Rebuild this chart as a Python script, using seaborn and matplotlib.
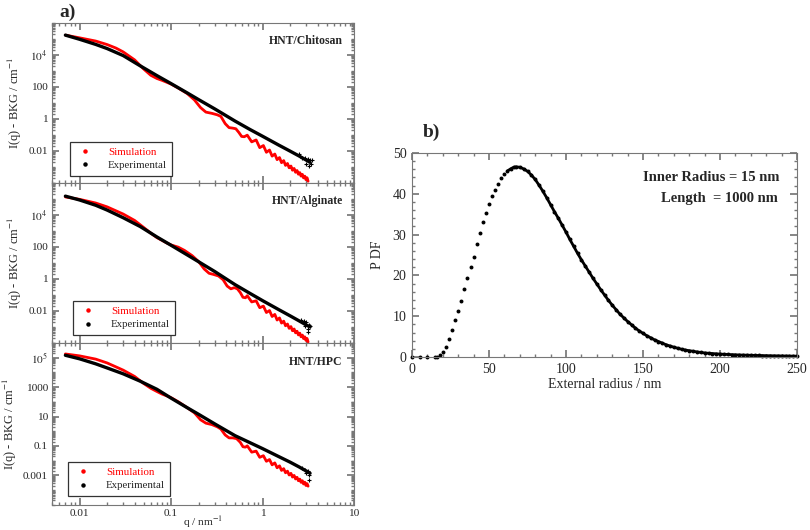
import numpy as np
import pandas as pd
import matplotlib
matplotlib.use("Agg")
import matplotlib.pyplot as plt
import matplotlib.ticker as mticker
from matplotlib.lines import Line2D
import seaborn as sns

# SAXS data, log10 of I(q)
q_exp = [0.007, 0.01, 0.015, 0.02, 0.03, 0.046, 0.07, 0.1, 0.15, 0.2, 0.3, 0.5,
         0.73, 1.0, 1.5, 2.0, 2.5, 3.0, 3.3]
chit_exp = [5.23, 4.97, 4.65, 4.39, 3.95, 3.31, 2.70, 2.20, 1.62, 1.20, 0.62, -0.14,
            -0.67, -1.09, -1.64, -2.02, -2.32, -2.58, -2.72]
alg_exp = [5.17, 4.93, 4.60, 4.30, 3.82, 3.27, 2.62, 2.10, 1.50, 1.07, 0.46, -0.36,
           -0.91, -1.36, -1.92, -2.31, -2.62, -2.88, -3.00]
hpc_exp = [5.16, 4.92, 4.58, 4.30, 3.90, 3.40, 2.85, 2.25, 1.60, 1.15, 0.50, -0.30,
           -0.78, -1.18, -1.72, -2.10, -2.42, -2.70, -2.85]

# scattered experimental points at the high-q end
chit_noise_q = [2.5, 2.7, 2.9, 3.0, 3.1, 3.2, 3.3, 3.4, 3.45]
chit_noise = [-2.2, -2.45, -2.45, -2.85, -2.5, -2.95, -2.55, -2.8, -2.6]
alg_noise_q = [2.6, 2.8, 2.9, 3.0, 3.1, 3.15, 3.2, 3.3]
alg_noise = [-2.55, -2.65, -2.95, -2.7, -3.1, -3.3, -2.85, -2.95]
hpc_noise_q = [2.7, 2.9, 3.0, 3.1, 3.2, 3.25]
hpc_noise = [-2.5, -2.6, -2.85, -2.7, -3.0, -3.3]

# simulation, low q part
chit_sim_q = [0.007, 0.01, 0.015, 0.02, 0.025, 0.03, 0.04, 0.05, 0.06, 0.07, 0.08, 0.09,
              0.1, 0.12, 0.15, 0.18, 0.21, 0.24, 0.28, 0.32, 0.35, 0.39, 0.43, 0.47,
              0.51, 0.55, 0.59, 0.63]
chit_sim = [5.23, 5.06, 4.86, 4.64, 4.42, 4.18, 3.68, 3.12, 2.72, 2.52, 2.40, 2.28,
            2.17, 1.92, 1.58, 1.18, 0.70, 0.42, 0.34, 0.25, 0.15, -0.30, -0.55, -0.58,
            -0.62, -0.85, -1.10, -1.12]
alg_sim_q = [0.007, 0.01, 0.015, 0.02, 0.03, 0.04, 0.05, 0.06, 0.07, 0.08, 0.09, 0.1,
             0.12, 0.14, 0.17, 0.2, 0.23, 0.26, 0.29, 0.33, 0.37, 0.41, 0.45, 0.49,
             0.53, 0.57, 0.61, 0.65]
alg_sim = [5.12, 4.97, 4.74, 4.50, 4.05, 3.65, 3.22, 2.86, 2.58, 2.40, 2.24, 2.12,
           1.98, 1.78, 1.45, 1.08, 0.62, 0.35, 0.28, 0.18, -0.05, -0.45, -0.62, -0.55,
           -0.62, -0.85, -1.15, -1.18]
hpc_sim_q = [0.007, 0.01, 0.015, 0.02, 0.03, 0.04, 0.05, 0.06, 0.07, 0.08, 0.09, 0.1,
             0.12, 0.15, 0.18, 0.21, 0.24, 0.28, 0.32, 0.35, 0.39, 0.43, 0.47, 0.52,
             0.57, 0.61, 0.65]
hpc_sim = [5.25, 5.12, 4.90, 4.64, 4.15, 3.72, 3.25, 2.92, 2.70, 2.52, 2.40, 2.28,
           2.00, 1.60, 1.25, 0.78, 0.55, 0.45, 0.30, 0.15, -0.25, -0.45, -0.45, -0.50,
           -0.75, -1.05, -1.08]

# simulation, oscillating high q part (peaks and troughs)
q_wig = [0.68, 0.76, 0.85, 0.93, 1.02, 1.10, 1.19, 1.27, 1.36, 1.44, 1.53, 1.61, 1.70,
         1.78, 1.87, 1.95, 2.04, 2.12, 2.21, 2.29, 2.38, 2.46, 2.55, 2.63, 2.72, 2.80,
         2.89, 2.97, 3.06, 3.14]
chit_wig = [-1.02, -1.44, -1.32, -1.80, -1.67, -2.09, -1.95, -2.33, -2.20, -2.55, -2.42,
            -2.74, -2.61, -2.91, -2.79, -3.06, -2.95, -3.21, -3.10, -3.34, -3.23, -3.46,
            -3.36, -3.58, -3.47, -3.69, -3.58, -3.80, -3.68, -3.90]
alg_wig = [-1.05, -1.44, -1.37, -1.80, -1.70, -2.10, -1.98, -2.35, -2.22, -2.57, -2.44,
           -2.76, -2.64, -2.93, -2.82, -3.09, -2.98, -3.24, -3.13, -3.37, -3.27, -3.50,
           -3.39, -3.62, -3.51, -3.73, -3.62, -3.84, -3.72, -3.94]
hpc_wig = [-0.99, -1.42, -1.35, -1.77, -1.66, -2.04, -1.92, -2.28, -2.15, -2.48, -2.35,
           -2.66, -2.54, -2.82, -2.71, -2.97, -2.86, -3.11, -3.00, -3.24, -3.13, -3.36,
           -3.25, -3.47, -3.36, -3.58, -3.46, -3.68, -3.56, -3.73]

# PDF of external radius
radius = [0, 5, 10, 15, 16, 18, 20, 22, 24, 26, 28, 30, 32, 34, 36, 38, 40, 42, 44, 46,
          48, 50, 52, 54, 56, 58, 60, 62, 64, 66, 67.5, 70, 72.5, 75, 77.5, 80, 82.5,
          85, 87.5, 90, 92.5, 95, 97.5, 100, 102.5, 105, 107.5, 110, 112.5, 115, 117.5,
          120, 122.5, 125, 127.5, 130, 132.5, 135, 137.5, 140, 142.5, 145, 147.5, 150,
          152.5, 155, 157.5, 160, 162.5, 165, 167.5, 170, 172.5, 175, 177.5, 180, 182.5,
          185, 187.5, 190, 192.5, 195, 197.5, 200, 202.5, 205, 207.5, 210, 212.5, 215,
          217.5, 220, 222.5, 225, 227.5, 230, 232.5, 235, 237.5, 240, 242.5, 245, 247.5,
          250]
pdf = [0, 0, 0, 0.05, 0.1, 0.5, 1.2, 2.5, 4.4, 6.6, 9.0, 11.2, 13.8, 16.6, 19.3, 22.0,
       24.6, 27.6, 30.5, 33.0, 35.4, 37.5, 39.4, 41.0, 42.5, 43.8, 44.8, 45.6, 46.1, 46.5,
       46.6, 46.5, 46.1, 45.5, 44.6, 43.5, 42.1, 40.6, 39.0, 37.3, 35.6, 34.0, 32.3, 30.6,
       28.8, 27.1, 25.4, 23.8, 22.3, 20.8, 19.3, 17.9, 16.5, 15.2, 13.9, 12.7, 11.6, 10.5,
       9.6, 8.7, 7.9, 7.1, 6.4, 5.8, 5.2, 4.7, 4.2, 3.8, 3.4, 3.0, 2.7, 2.4, 2.15, 1.9,
       1.7, 1.55, 1.4, 1.25, 1.12, 1.0, 0.92, 0.85, 0.78, 0.72, 0.67, 0.62, 0.58, 0.54,
       0.5, 0.47, 0.45, 0.42, 0.4, 0.37, 0.35, 0.33, 0.31, 0.29, 0.28, 0.26, 0.25, 0.23,
       0.22, 0.21]

sns.set_theme(style="ticks")
plt.rcParams['font.family'] = ['Liberation Serif', 'DejaVu Serif']
plt.rcParams['mathtext.fontset'] = 'stix'

fig = plt.figure(figsize=(8.1, 5.3), dpi=100)
ax1 = fig.add_axes([0.0642, 0.655, 0.373, 0.302])
ax2 = fig.add_axes([0.0642, 0.353, 0.373, 0.302])
ax3 = fig.add_axes([0.0642, 0.0474, 0.373, 0.3056])
axb = fig.add_axes([0.5086, 0.3264, 0.4755, 0.385])

frame_col = '#777777'


def saxs_fmt(v, pos):
    e = int(round(np.log10(v)))
    if e >= 4:
        return r'$10^{%d}$' % e
    if e >= 0:
        return '%d' % round(v)
    return '%.*f' % (-e, v)


panels = [
    (ax1, 'HNT/Chitosan', chit_exp, chit_noise_q, chit_noise, chit_sim_q, chit_sim,
     chit_wig, (1e-4, 1e6), [1e-2, 1, 1e2, 1e4], (0.06, 0.045)),
    (ax2, 'HNT/Alginate', alg_exp, alg_noise_q, alg_noise, alg_sim_q, alg_sim,
     alg_wig, (1e-4, 1e6), [1e-2, 1, 1e2, 1e4], (0.07, 0.05)),
    (ax3, 'HNT/HPC', hpc_exp, hpc_noise_q, hpc_noise, hpc_sim_q, hpc_sim,
     hpc_wig, (1e-5, 1e6), [1e-3, 1e-1, 10, 1e3, 1e5], (0.053, 0.056)),
]

for ax, name, exp, nq, nv, sq, sv, wv, ylim, yt, legpos in panels:
    ax.set_xscale('log')
    ax.set_yscale('log')
    sim = pd.DataFrame({'q': sq + q_wig, 'I': 10 ** np.array(sv + wv)})
    ex = pd.DataFrame({'q': q_exp, 'I': 10 ** np.array(exp)})
    noise = pd.DataFrame({'q': nq, 'I': 10 ** np.array(nv)})
    sns.lineplot(data=sim, x='q', y='I', ax=ax, color='red', lw=2.0,
                 sort=False, estimator=None)
    sns.lineplot(data=ex, x='q', y='I', ax=ax, color='black', lw=2.4,
                 sort=False, estimator=None)
    sns.scatterplot(data=noise, x='q', y='I', ax=ax, color='black', s=7,
                    marker='+', linewidth=0.8)
    ax.set_xlim(0.005, 10)
    ax.set_ylim(*ylim)
    ax.set_yticks(yt)
    ax.yaxis.set_major_formatter(mticker.FuncFormatter(saxs_fmt))
    ax.yaxis.set_minor_locator(mticker.LogLocator(base=10, subs=np.arange(1, 10), numticks=30))
    ax.yaxis.set_minor_formatter(mticker.NullFormatter())
    ax.set_xticks([0.01, 0.1, 1, 10])
    ax.xaxis.set_major_formatter(mticker.FuncFormatter(lambda v, p: '%g' % v))
    ax.xaxis.set_minor_locator(mticker.LogLocator(base=10, subs=np.arange(2, 10), numticks=20))
    ax.xaxis.set_minor_formatter(mticker.NullFormatter())
    ax.tick_params(which='both', direction='in', top=True, right=True,
                   color=frame_col, labelsize=8.2, pad=3)
    ax.tick_params(which='major', length=5)
    ax.tick_params(which='minor', length=2.5)
    for s in ax.spines.values():
        s.set_color(frame_col)
        s.set_linewidth(0.8)
    ax.set_ylabel('I(q) - BKG / cm$^{-1}$', fontsize=9, labelpad=3)
    ax.set_xlabel('')
    ax.text(0.962, 0.885, name, transform=ax.transAxes, ha='right', va='center',
            fontsize=8.5, fontweight='bold')
    handles = [Line2D([], [], ls='', marker='o', ms=2.2, color='red'),
               Line2D([], [], ls='', marker='o', ms=2.2, color='black')]
    leg = ax.legend(handles, ['Simulation', 'Experimental'], loc='lower left',
                    bbox_to_anchor=legpos, frameon=True, fancybox=False,
                    edgecolor='black', fontsize=7.8, handlelength=1.8,
                    borderpad=0.5, labelspacing=0.35, handletextpad=1.2,
                    borderaxespad=0)
    leg.get_frame().set_linewidth(0.9)
    leg.get_texts()[0].set_color('red')

ax1.tick_params(labelbottom=False)
ax2.tick_params(labelbottom=False)
ax3.set_xlabel('q / nm$^{-1}$', fontsize=8.2, labelpad=-3)

# PDF panel
pdf_df = pd.DataFrame({'radius': radius, 'pdf': pdf})
sns.lineplot(data=pdf_df[pdf_df['radius'] >= 62], x='radius', y='pdf', ax=axb,
             color='black', lw=2.0, sort=False, estimator=None)
sns.scatterplot(data=pdf_df, x='radius', y='pdf', ax=axb, color='black', s=8,
                linewidth=0)
for c in axb.collections:
    c.set_clip_on(False)
axb.set_xlim(0, 250)
axb.set_ylim(0, 50)
axb.xaxis.set_major_locator(mticker.MultipleLocator(50))
axb.xaxis.set_minor_locator(mticker.MultipleLocator(10))
axb.yaxis.set_major_locator(mticker.MultipleLocator(10))
axb.yaxis.set_minor_locator(mticker.MultipleLocator(2))
axb.tick_params(which='both', direction='in', top=True, right=True,
                color=frame_col, labelsize=10, pad=4)
axb.tick_params(which='major', length=5)
axb.tick_params(which='minor', length=2.5)
for s in axb.spines.values():
    s.set_color(frame_col)
    s.set_linewidth(0.8)
axb.set_xlabel('External radius / nm', fontsize=10, labelpad=2)
axb.set_ylabel('P DF', fontsize=10, labelpad=6)
axb.text(0.954, 0.882, 'Inner Radius = 15 nm', transform=axb.transAxes, ha='right',
         va='center', fontsize=10.5, fontweight='bold')
axb.text(0.951, 0.775, 'Length  = 1000 nm', transform=axb.transAxes, ha='right',
         va='center', fontsize=10.5, fontweight='bold')

fig.text(0.083, 0.977, 'a)', fontsize=14, fontweight='bold', va='center', ha='center')
fig.text(0.533, 0.751, 'b)', fontsize=14, fontweight='bold', va='center', ha='center')

fig.savefig('out.png', dpi=100)
